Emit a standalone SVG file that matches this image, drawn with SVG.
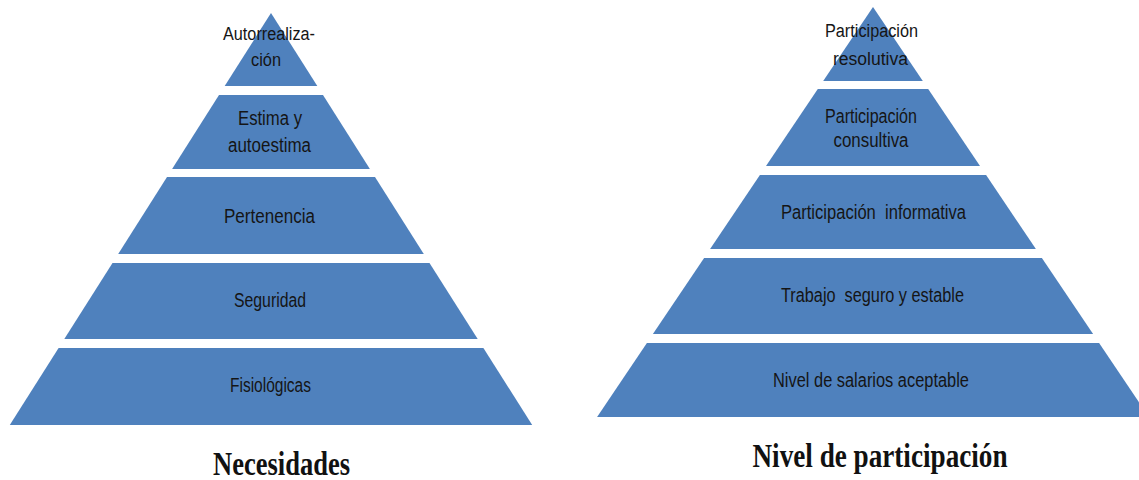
<svg xmlns="http://www.w3.org/2000/svg" width="1139" height="480" viewBox="0 0 1139 480">
<style>
.lvl{fill:#4F81BD;}
.t{font-family:"Liberation Sans",Arial,sans-serif;font-size:20px;fill:#151515;text-anchor:middle;}
.s{font-size:18px;}
.ttl{font-family:"Liberation Serif","Times New Roman",serif;font-weight:bold;font-size:33px;fill:#111;text-anchor:middle;}
</style>
<rect width="1139" height="480" fill="#ffffff"/>
<g id="necesidades">
<g id="n-autorrealizacion">
<polygon class="lvl" points="271,13 317.3,86 224.7,86"/>
<text class="t s" x="269" y="40" textLength="92" lengthAdjust="spacingAndGlyphs">Autorrealiza-</text>
<text class="t s" x="266" y="66" textLength="30" lengthAdjust="spacingAndGlyphs">ción</text>
</g>
<g id="n-estima">
<polygon class="lvl" points="219,95 323,95 369.9,169 172.1,169"/>
<text class="t" x="270" y="125" textLength="64" lengthAdjust="spacingAndGlyphs">Estima y</text>
<text class="t" x="269.5" y="152" textLength="83" lengthAdjust="spacingAndGlyphs">autoestima</text>
</g>
<g id="n-pertenencia">
<polygon class="lvl" points="167,177 375,177 423.8,254 118.2,254"/>
<text class="t" x="269.5" y="223" textLength="91" lengthAdjust="spacingAndGlyphs">Pertenencia</text>
</g>
<g id="n-seguridad">
<polygon class="lvl" points="112.5,263 429.5,263 477.7,339 64.3,339"/>
<text class="t" x="270" y="307" textLength="72" lengthAdjust="spacingAndGlyphs">Seguridad</text>
</g>
<g id="n-fisiologicas">
<polygon class="lvl" points="58.6,348 483.4,348 532.2,425 9.8,425"/>
<text class="t" x="270.5" y="392" textLength="81" lengthAdjust="spacingAndGlyphs">Fisiológicas</text>
</g>
<text id="n-title" class="ttl" x="281.5" y="475" textLength="137" lengthAdjust="spacingAndGlyphs">Necesidades</text>
</g>
<g id="participacion">
<g id="p-resolutiva">
<polygon class="lvl" points="873,7 922.8,81 823.2,81"/>
<text class="t s" x="871.5" y="37" textLength="93" lengthAdjust="spacingAndGlyphs">Participación</text>
<text class="t s" x="870.5" y="65" textLength="75" lengthAdjust="spacingAndGlyphs">resolutiva</text>
</g>
<g id="p-consultiva">
<polygon class="lvl" points="817.8,89 928.2,89 980,166 766,166"/>
<text class="t" x="871" y="123" textLength="92" lengthAdjust="spacingAndGlyphs">Participación</text>
<text class="t" x="871" y="147" textLength="75" lengthAdjust="spacingAndGlyphs">consultiva</text>
</g>
<g id="p-informativa">
<polygon class="lvl" points="759.9,175 986.1,175 1035.9,249 710.1,249"/>
<text class="t" x="873.5" y="219" textLength="185" lengthAdjust="spacingAndGlyphs" xml:space="preserve">Participación  informativa</text>
</g>
<g id="p-trabajo">
<polygon class="lvl" points="704.1,258 1041.9,258 1093.1,334 652.9,334"/>
<text class="t" x="872.5" y="302" textLength="183" lengthAdjust="spacingAndGlyphs" xml:space="preserve">Trabajo  seguro y estable</text>
</g>
<g id="p-salarios">
<polygon class="lvl" points="646.9,343 1099.1,343 1148.9,417 597.1,417"/>
<text class="t" x="871" y="387" textLength="196" lengthAdjust="spacingAndGlyphs">Nivel de salarios aceptable</text>
</g>
<text id="p-title" class="ttl" x="880" y="467" textLength="255" lengthAdjust="spacingAndGlyphs">Nivel de participación</text>
</g>
<g id="connectors"></g>
</svg>
